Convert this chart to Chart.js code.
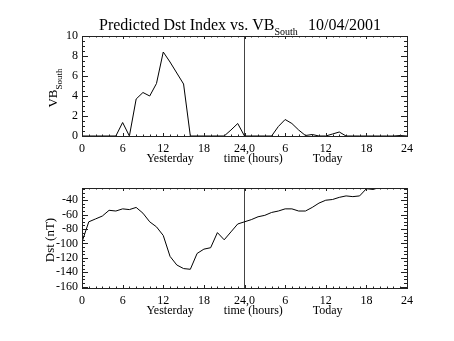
<!DOCTYPE html>
<html>
<head>
<meta charset="utf-8">
<script src="https://cdn.jsdelivr.net/npm/chart.js@4.4.1/dist/chart.umd.min.js"></script>
<style>
html, body { margin: 0; padding: 0; background: #fff; }
#wrap { position: relative; width: 454px; height: 341px; }
canvas { position: absolute; left: 0; }
</style>
</head>
<body>
<div id="wrap">
  <canvas id="top" width="454" height="170" style="top:0"></canvas>
  <canvas id="bot" width="454" height="171" style="top:170px"></canvas>
</div>
<script>
// hours since 00:00 yesterday
var hours = [0,1,2,3,4,5,6,7,8,9,10,11,12,13,14,15,16,17,18,19,20,21,22,23,
             24,25,26,27,28,29,30,31,32,33,34,35,36,37,38,39,40,41,42,43,44,45,46,47,48];

var vbSouth = [0,0,0,0,0,0,1.35,0,3.7,4.35,4.0,5.25,8.4,7.4,6.3,5.2,0,0,0,0,0,0,0.6,1.25,
               0,0,0,0,0,0.95,1.65,1.25,0.6,0.05,0.15,0,0,0.2,0.4,0,0,0,0,0,0,0,0,0.05,0];

var dst = [-98,-70,-66,-62,-54,-55,-52,-53,-50,-58,-70,-77,-89,-118,-130,-135,-136,-114,-108,-106,-85,-95,-84,-73,
           -70,-67,-63,-61,-57,-55,-52,-52,-55,-55,-50,-44,-40,-39,-36,-34,-35,-34,-24,-25,-22,-19,-17,-16,-15];

var xTicks = [0,6,12,18,24,30,36,42,48];
var vbTicks = [0,2,4,6,8,10];
var dstTicks = [-160,-140,-120,-100,-80,-60,-40];
var dayBoundary = 24;

var FONT = 'Liberation Serif';

function pts(ys) {
  return hours.map(function(h, i) { return {x: h, y: ys[i]}; });
}

function xLabel(v) {
  if (v === 24) return '24,0';
  return String(v > 24 ? v - 24 : v);
}

// box round the plot with inward major and minor ticks, like the old plots
function framePlugin(yMinor, yMajor) {
  return {
    id: 'frame',
    afterDatasetsDraw: function(chart) {
      var ctx = chart.ctx, a = chart.chartArea, x = chart.scales.x, y = chart.scales.y;
      ctx.save();
      ctx.strokeStyle = '#222';
      ctx.lineWidth = 1;
      ctx.strokeRect(Math.round(a.left) + 0.5, Math.round(a.top) + 0.5,
                     Math.round(a.right - a.left), Math.round(a.bottom - a.top));
      ctx.beginPath();
      for (var h = x.min; h <= x.max; h++) {
        var px = Math.round(x.getPixelForValue(h)) + 0.5;
        var len = h % 6 === 0 ? 3 : 1.5;
        ctx.moveTo(px, a.bottom); ctx.lineTo(px, a.bottom - len);
        ctx.moveTo(px, a.top); ctx.lineTo(px, a.top + len);
      }
      var start = Math.ceil(y.min / yMinor) * yMinor;
      for (var v = start; v <= y.max + 1e-9; v += yMinor) {
        var py = Math.round(y.getPixelForValue(v)) + 0.5;
        var l = Math.abs(v / yMajor - Math.round(v / yMajor)) < 1e-6 ? 6 : 3;
        ctx.moveTo(a.left, py); ctx.lineTo(a.left + l, py);
        ctx.moveTo(a.right, py); ctx.lineTo(a.right - l, py);
      }
      ctx.stroke();
      ctx.restore();
    }
  };
}

// rotated y title with an optional subscript
function yTitlePlugin(main, sub, baseX, centerY) {
  return {
    id: 'ytitle',
    afterDraw: function(chart) {
      var ctx = chart.ctx;
      ctx.save();
      ctx.fillStyle = '#000';
      ctx.font = '13px "' + FONT + '"';
      var w1 = ctx.measureText(main).width;
      ctx.font = '9px "' + FONT + '"';
      var w2 = sub ? ctx.measureText(sub).width : 0;
      ctx.translate(baseX, centerY + (w1 + w2) / 2);
      ctx.rotate(-Math.PI / 2);
      ctx.textBaseline = 'alphabetic';
      ctx.textAlign = 'left';
      ctx.font = '13px "' + FONT + '"';
      ctx.fillText(main, 0, 0);
      if (sub) {
        ctx.font = '9px "' + FONT + '"';
        ctx.fillText(sub, w1, 5);
      }
      ctx.restore();
    }
  };
}

var mainTitle = {
  id: 'maintitle',
  afterDraw: function(chart) {
    var ctx = chart.ctx;
    ctx.save();
    ctx.fillStyle = '#000';
    ctx.textBaseline = 'alphabetic';
    ctx.font = '16px "' + FONT + '"';
    var t = 'Predicted Dst Index vs. VB';
    ctx.fillText(t, 99, 30);
    var w = ctx.measureText(t).width;
    ctx.font = '10px "' + FONT + '"';
    ctx.fillText('South', 99 + w, 35);
    ctx.font = '16px "' + FONT + '"';
    ctx.fillText('10/04/2001', 308, 30);
    ctx.restore();
  }
};

function makeChart(id, series, yMin, yMax, yTickList, padTop, padBottom, plugins) {
  return new Chart(document.getElementById(id), {
    type: 'line',
    data: {
      datasets: [
        { data: pts(series), borderColor: '#000', borderWidth: 1, pointRadius: 0, tension: 0 },
        { data: [{x: dayBoundary, y: yMin}, {x: dayBoundary, y: yMax}],
          borderColor: '#444', borderWidth: 1, pointRadius: 0 }
      ]
    },
    options: {
      responsive: false,
      animation: false,
      events: [],
      layout: { padding: { left: 0, right: 47, top: padTop, bottom: padBottom } },
      plugins: { legend: { display: false }, tooltip: { enabled: false } },
      scales: {
        x: {
          type: 'linear', min: 0, max: 48,
          afterBuildTicks: function(s) { s.ticks = xTicks.map(function(v) { return {value: v}; }); },
          afterFit: function(s) { s.height = 34; },
          grid: { display: false, drawTicks: false },
          border: { display: false },
          ticks: { color: '#000', padding: 6, maxRotation: 0, autoSkip: false,
                   font: { family: FONT, size: 12 }, callback: xLabel },
          title: { display: true, text: 'Yesterday          time (hours)          Today',
                   color: '#000', font: { family: FONT, size: 12 }, padding: { top: 0, bottom: 4 } }
        },
        y: {
          min: yMin, max: yMax,
          afterBuildTicks: function(s) { s.ticks = yTickList.map(function(v) { return {value: v}; }); },
          afterFit: function(s) { s.width = 82; },
          grid: { display: false, drawTicks: false },
          border: { display: false },
          ticks: { color: '#000', padding: 4, autoSkip: false, font: { family: FONT, size: 12 } }
        }
      }
    },
    plugins: plugins
  });
}

makeChart('top', vbSouth, 0, 10, vbTicks, 36, 0,
          [framePlugin(0.5, 2), yTitlePlugin('VB', 'South', 57, 88), mainTitle]);
makeChart('bot', dst, -162, -23, dstTicks, 18, 19,
          [framePlugin(5, 20), yTitlePlugin('Dst (nT)', '', 54, 70)]);
</script>
</body>
</html>
